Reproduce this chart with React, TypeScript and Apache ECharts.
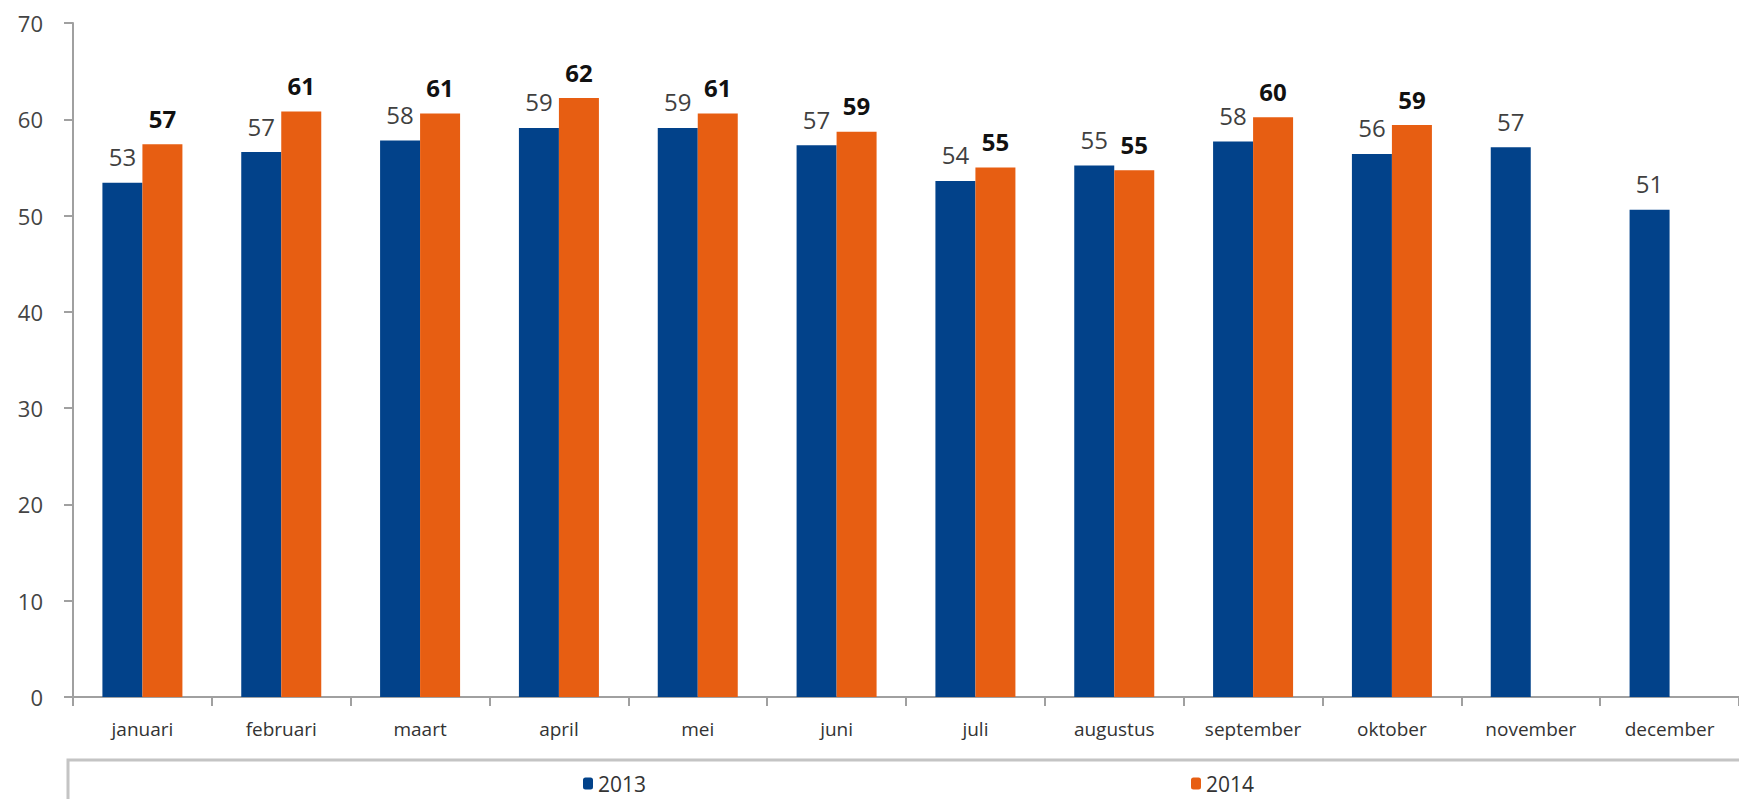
import React, { useEffect, useRef } from "react";
import * as echarts from "echarts";

const categories = [
  "januari", "februari", "maart", "april", "mei", "juni",
  "juli", "augustus", "september", "oktober", "november", "december",
];
const values2013 = [53.4, 56.6, 57.8, 59.1, 59.1, 57.3, 53.6, 55.2, 57.7, 56.4, 57.1, 50.6];
const values2014: (number | null)[] = [57.4, 60.8, 60.6, 62.2, 60.6, 58.7, 55.0, 54.7, 60.2, 59.4, null, null];
const seriesNames = ["2013", "2014"];
const yTicks = { min: 0, max: 70, interval: 10 };

const BLUE = "#02428A";
const ORANGE = "#E75E12";
const FONT = "'Liberation Sans Narrow', 'Open Sans', sans-serif";

export default function App() {
  const ref = useRef<HTMLDivElement>(null);
  useEffect(() => {
    if (!ref.current) return;
    const chart = echarts.init(ref.current, null, { renderer: "svg" });
    chart.setOption({
      animation: false,
      backgroundColor: "#ffffff",
      textStyle: { fontFamily: FONT },
      grid: { left: 73, top: 23, bottom: 102, right: -9, containLabel: false },
      graphic: [
        {
          type: "rect",
          z: -1,
          shape: { x: 68, y: 760, width: 1700, height: 80 },
          style: { fill: "#ffffff", stroke: "#c4c4c4", lineWidth: 3 },
        },
      ],
      legend: [
        {
          data: [seriesNames[0]],
          left: 578,
          top: 768,
          itemWidth: 10,
          itemHeight: 12,
          itemGap: 6,
          textStyle: { fontSize: 21, color: "#333", fontFamily: FONT },
        },
        {
          data: [seriesNames[1]],
          left: 1186,
          top: 768,
          itemWidth: 10,
          itemHeight: 12,
          itemGap: 6,
          textStyle: { fontSize: 21, color: "#333", fontFamily: FONT },
        },
      ],
      xAxis: {
        type: "category",
        data: categories,
        axisLine: { show: true, lineStyle: { color: "#a0a0a0", width: 2 } },
        axisTick: { show: true, length: 9, lineStyle: { color: "#a0a0a0", width: 2 } },
        axisLabel: { color: "#333", fontSize: 19, margin: 22, fontFamily: FONT, interval: 0 },
      },
      yAxis: {
        type: "value",
        min: yTicks.min,
        max: yTicks.max,
        interval: yTicks.interval,
        axisLine: { show: true, lineStyle: { color: "#a0a0a0", width: 2 } },
        axisTick: { show: true, length: 9, lineStyle: { color: "#a0a0a0", width: 2 } },
        splitLine: { show: false },
        axisLabel: { color: "#444", fontSize: 22, margin: 30, fontFamily: FONT },
      },
      series: [
        {
          name: seriesNames[0],
          type: "bar",
          data: values2013,
          barWidth: 40,
          barGap: "0%",
          itemStyle: { color: BLUE },
          label: {
            show: true,
            position: "top",
            distance: 14,
            fontSize: 24,
            color: "#404040",
            fontFamily: FONT,
            formatter: (p: any) => String(Math.round(p.value)),
          },
        },
        {
          name: seriesNames[1],
          type: "bar",
          data: values2014,
          barWidth: 40,
          barGap: "0%",
          itemStyle: { color: ORANGE },
          label: {
            show: true,
            position: "top",
            distance: 14,
            fontSize: 24,
            fontWeight: "bold",
            color: "#111",
            fontFamily: FONT,
            formatter: (p: any) => (p.value == null ? "" : String(Math.round(p.value))),
          },
        },
      ],
    });
    return () => chart.dispose();
  }, []);
  return (
    <div
      ref={ref}
      style={{ position: "fixed", left: 0, top: 0, width: 1739, height: 799 }}
    />
  );
}
